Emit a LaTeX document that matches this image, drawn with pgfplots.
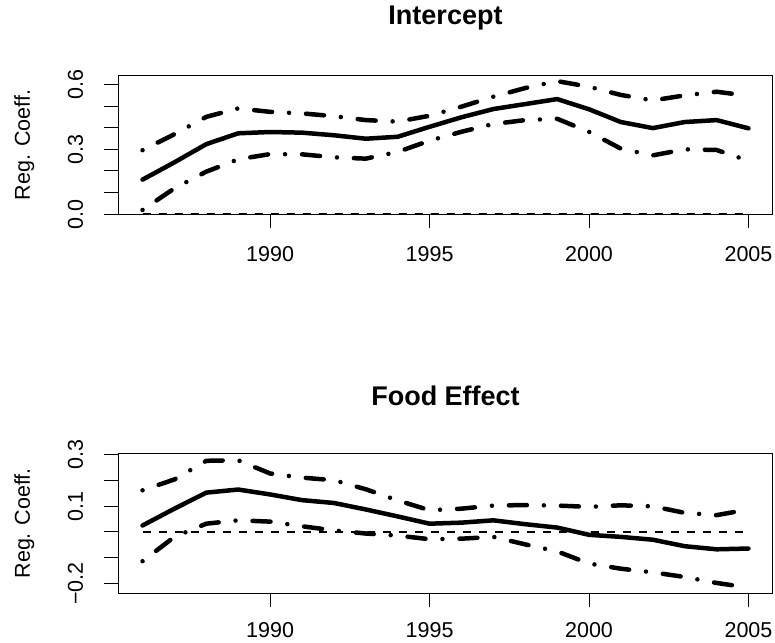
\documentclass[border=0pt]{standalone}
\usepackage{fontspec}
\setmainfont{Liberation Sans}
\usepackage{pgfplots}
\pgfplotsset{compat=1.18}

\pgfplotsset{
  rpanel/.style={
    scale only axis, anchor=south west, width=654.4bp,
    xmin=1985.24, xmax=2005.76,
    axis line style={line width=1bp},
    tick style={line width=1bp, black},
    tick pos=left, tick align=outside, major tick length=14bp,
    xtick={1990,1995,2000,2005}, xticklabels={1990,1995,2000,2005},
    xticklabel style={anchor=north, inner sep=0pt},
    xticklabel shift=18bp,
    yticklabel style={rotate=90, anchor=south, inner sep=0pt},
    yticklabel shift=21bp,
    tick label style={font=\fontsize{21.5bp}{25bp}\selectfont},
    ylabel={Reg. Coeff.},
    ylabel style={at={(axis description cs:-0.135,0.5)}, anchor=base,
      font=\fontsize{21.5bp}{25bp}\selectfont},
    title style={font=\bfseries\fontsize{27bp}{31bp}\selectfont,
      anchor=base, at={(axis description cs:0.5,1)}},
  },
  est/.style={black, line width=4.5bp, line cap=round, line join=round},
  band/.style={black, line width=4.5bp, line cap=round, line join=round,
    dash pattern=on 0bp off 17bp on 18bp off 17bp},
  zero/.style={black, line width=2bp, dash pattern=on 8bp off 8bp},
}

\begin{document}
\begin{tikzpicture}
\path[use as bounding box] (0,0) rectangle (775bp,643bp);

% Intercept
\begin{axis}[rpanel, at={(118.3bp,428.7bp)}, height=138.6bp,
  ymin=0, ymax=0.64,
  ytick={0,0.1,0.2,0.3,0.4,0.5,0.6}, yticklabels={0.0,{},{},0.3,{},{},0.6},
  title={Intercept}, title style={yshift=45bp}]
  \addplot[zero] coordinates {(1986,0) (2005,0)};
  \addplot[band] coordinates {
    (1986,0.296) (1987,0.370) (1988,0.450) (1989,0.489) (1990,0.473)
    (1991,0.466) (1992,0.453) (1993,0.435) (1994,0.428) (1995,0.455)
    (1996,0.497) (1997,0.543) (1998,0.583) (1999,0.615) (2000,0.589)
    (2001,0.551) (2002,0.526) (2003,0.549) (2004,0.566) (2005,0.547)};
  \addplot[est] coordinates {
    (1986,0.160) (1987,0.240) (1988,0.324) (1989,0.374) (1990,0.380)
    (1991,0.377) (1992,0.365) (1993,0.349) (1994,0.358) (1995,0.404)
    (1996,0.448) (1997,0.486) (1998,0.509) (1999,0.532) (2000,0.485)
    (2001,0.426) (2002,0.398) (2003,0.426) (2004,0.435) (2005,0.397)};
  \addplot[band] coordinates {
    (1986,0.020) (1987,0.120) (1988,0.197) (1989,0.254) (1990,0.278)
    (1991,0.277) (1992,0.263) (1993,0.257) (1994,0.288) (1995,0.340)
    (1996,0.381) (1997,0.417) (1998,0.435) (1999,0.441) (2000,0.381)
    (2001,0.303) (2002,0.272) (2003,0.300) (2004,0.297) (2005,0.247)};
\end{axis}

% Food Effect
\begin{axis}[rpanel, at={(118.3bp,49.7bp)}, height=140bp,
  ymin=-0.237, ymax=0.304, xticklabel shift=15bp,
  ytick={-0.2,-0.1,0,0.1,0.2,0.3}, yticklabels={−0.2,{},{},0.1,{},0.3},
  title={Food Effect}, title style={yshift=41.6bp}]
  \addplot[zero] coordinates {(1986,0) (2005,0)};
  \addplot[band] coordinates {
    (1986,0.161) (1987,0.203) (1988,0.275) (1989,0.277) (1990,0.226)
    (1991,0.210) (1992,0.200) (1993,0.165) (1994,0.122) (1995,0.084)
    (1996,0.090) (1997,0.102) (1998,0.104) (1999,0.102) (2000,0.097)
    (2001,0.103) (2002,0.099) (2003,0.074) (2004,0.065) (2005,0.087)};
  \addplot[est] coordinates {
    (1986,0.025) (1987,0.090) (1988,0.152) (1989,0.164) (1990,0.145)
    (1991,0.123) (1992,0.112) (1993,0.087) (1994,0.060) (1995,0.032)
    (1996,0.036) (1997,0.045) (1998,0.030) (1999,0.017) (2000,-0.011)
    (2001,-0.019) (2002,-0.030) (2003,-0.055) (2004,-0.067) (2005,-0.064)};
  \addplot[band] coordinates {
    (1986,-0.113) (1987,-0.019) (1988,0.032) (1989,0.045) (1990,0.040)
    (1991,0.022) (1992,0.006) (1993,-0.006) (1994,-0.014) (1995,-0.028)
    (1996,-0.026) (1997,-0.019) (1998,-0.048) (1999,-0.075) (2000,-0.122)
    (2001,-0.142) (2002,-0.156) (2003,-0.174) (2004,-0.197) (2005,-0.215)};
\end{axis}
\end{tikzpicture}
\end{document}
